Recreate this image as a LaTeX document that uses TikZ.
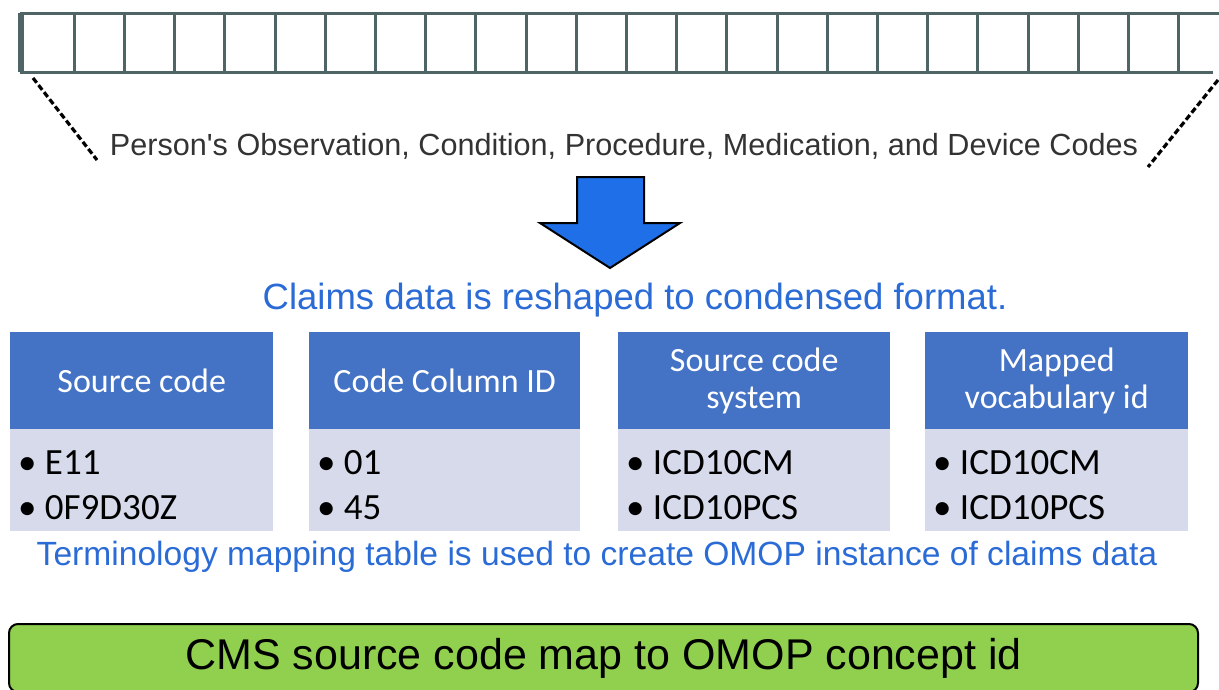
\documentclass[tikz,border=0pt]{standalone}
\usepackage{fontspec}
\setmainfont{Liberation Sans}
\newfontfamily\calibri{Carlito}
\definecolor{stripgray}{HTML}{4F6464}
\definecolor{arrowblue}{HTML}{1F6FE8}
\definecolor{captionblue}{HTML}{2A6BD6}
\definecolor{headblue}{HTML}{4472C4}
\definecolor{bodylav}{HTML}{D6DAEB}
\definecolor{mapgreen}{HTML}{90D04E}
\tikzset{
  cell/.style={draw=stripgray, line width=3pt},
  lead/.style={dashed, dash pattern=on 6pt off 3pt, line width=3.2pt},
  caption/.style={text=captionblue, inner sep=0pt},
  head/.style={fill=headblue, text=white, minimum height=97pt, align=center, inner sep=0pt,
    font=\calibri\fontsize{34}{37}\selectfont},
  body/.style={fill=bodylav, minimum height=102pt, inner sep=0pt},
  entry/.style={anchor=west, inner sep=0pt, font=\calibri\fontsize{37}{40}\selectfont},
}
\begin{document}
\begin{tikzpicture}[x=1pt,y=-1pt]
	\useasboundingbox (0,0) rectangle (1219,689);
	% row of code cells
	\draw[cell] (1219,13) -- (21,13) -- (21,72) -- (1213,72);
	\draw[stripgray, line width=6pt] (21,13) -- (21,72);
	\foreach \k in {1,...,23} \draw[cell] ({24+50.2*\k},13) -- ({24+50.2*\k},72);
	\coordinate (SL) at (33,78); \coordinate (TL) at (97,160);
	\coordinate (SR) at (1218,80); \coordinate (TR) at (1148,167);
	\draw[lead] (SL) -- (TL);
	\draw[lead] (SR) -- (TR);
	\node[text=black!80, inner sep=0pt, font=\fontsize{30.6}{34}\selectfont] (codes) at (624,146)
		{Person\textquotesingle s Observation, Condition, Procedure, Medication, and Device Codes};
	% down arrow
	\draw[fill=arrowblue, line width=2pt, line join=miter]
		(577,177) -- (644,177) -- (644,223) -- (680,223) -- (610,268) -- (540,223) -- (577,223) -- cycle;
	\node[caption, font=\fontsize{36.5}{40}\selectfont] (reshape) at (635,300)
		{Claims data is reshaped to condensed format.};
	% mapping table
	\foreach \x/\w/\h/\a/\b [count=\i] in {10/263/Source code/E11/0F9D30Z,
			309/271/Code Column ID/01/45,
			618/272/{Source code\\system}/ICD10CM/ICD10PCS,
			925/263/{Mapped\\vocabulary id}/ICD10CM/ICD10PCS} {
		\node[head, minimum width=\w pt, anchor=north west] (h\i) at (\x,332) {\h};
		\node[body, minimum width=\w pt, anchor=north west] (b\i) at (\x,429) {};
		\node[entry] (a\i) at (\x+8,463) {\textbullet\ \a};
		\node[entry] (c\i) at (\x+8,508) {\textbullet\ \b};
	}
	\node[caption, font=\fontsize{33.6}{37}\selectfont] (terms) at (597,557)
		{Terminology mapping table is used to create OMOP instance of claims data};
	\node[draw, fill=mapgreen, line width=2pt, rounded corners=9pt, minimum width=1189pt,
		minimum height=68pt, inner sep=0pt, anchor=north west, font=\fontsize{43}{46}\selectfont] (cms) at (8,623)
		{CMS source code map to OMOP concept id};
\end{tikzpicture}
\end{document}
